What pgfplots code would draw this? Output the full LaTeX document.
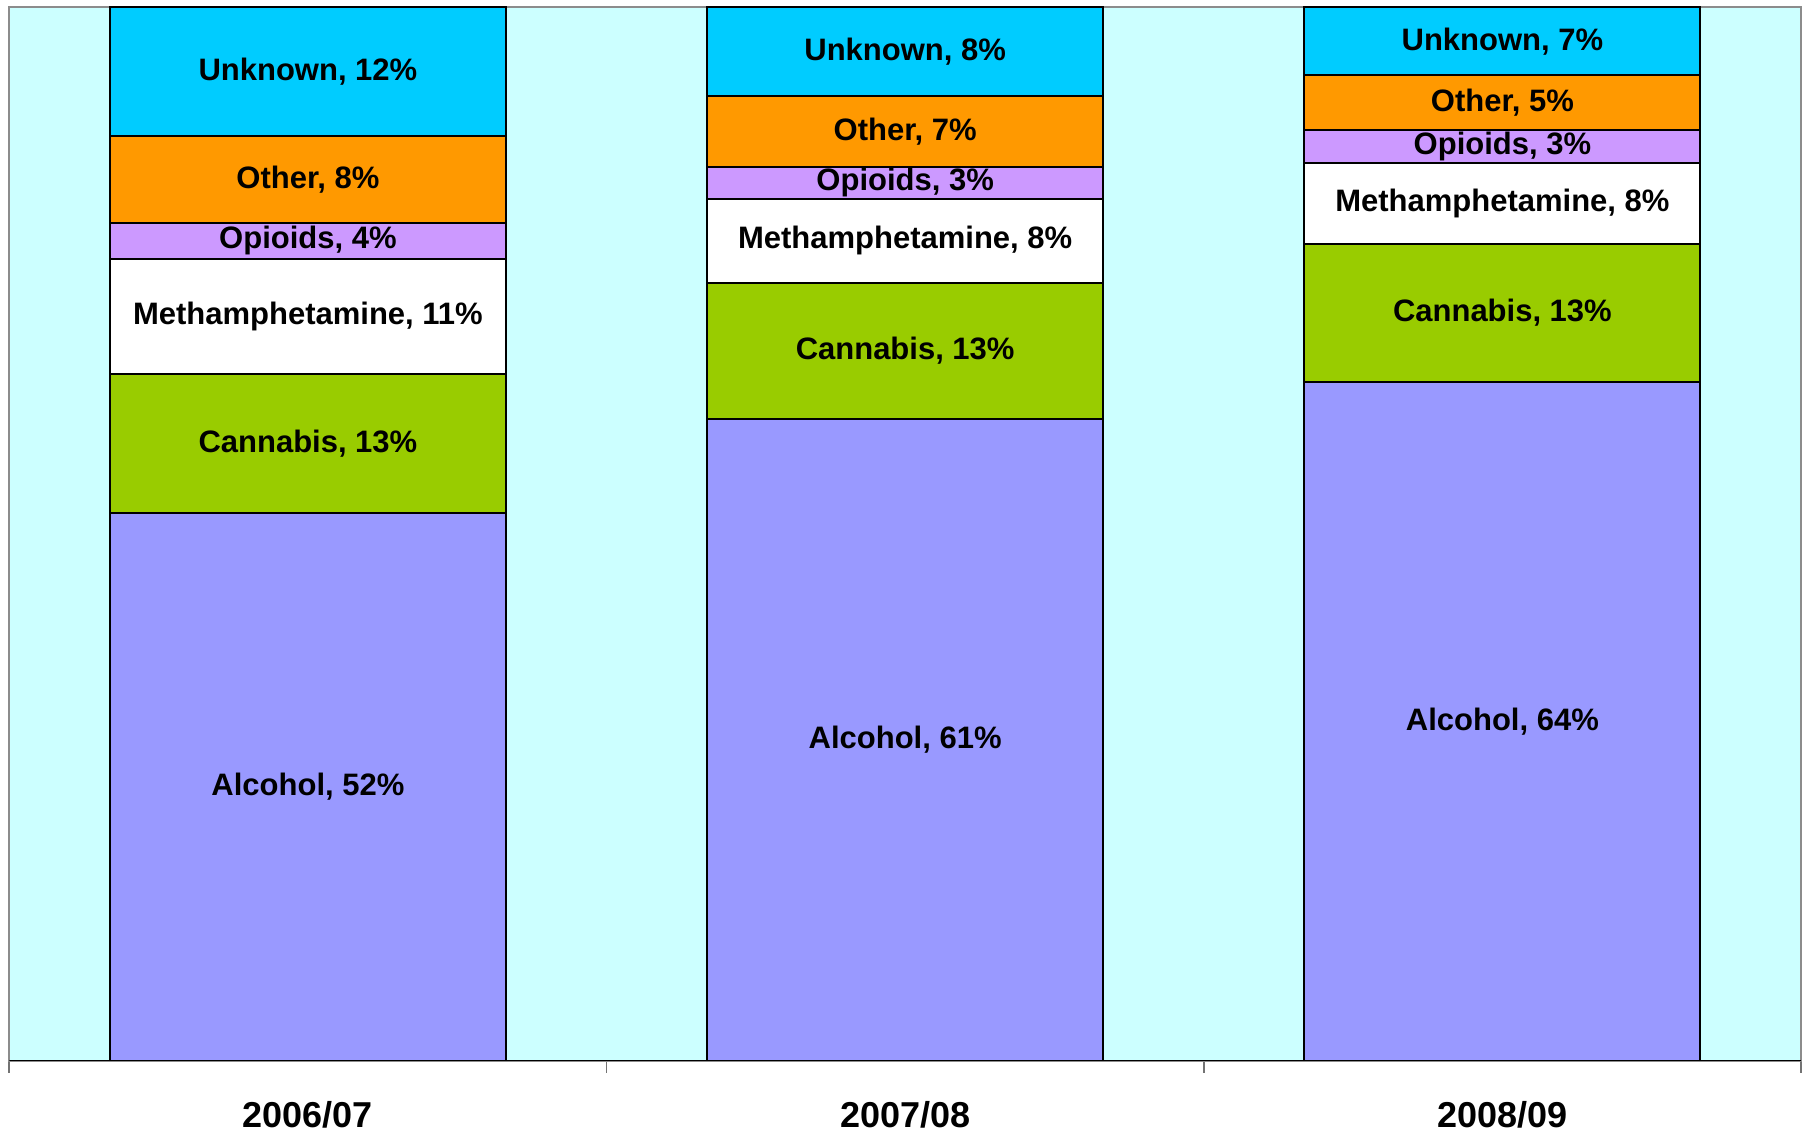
\documentclass[border=0pt]{standalone}
\usepackage{pgfplots}
\usepackage{pgfplotstable}
\pgfplotsset{compat=1.18}
\usepackage{fontspec}
\setmainfont{Liberation Sans}

\definecolor{plotbg}{HTML}{CCFFFF}
\definecolor{alc}{HTML}{9999FF}
\definecolor{can}{HTML}{99CC00}
\definecolor{opi}{HTML}{CC99FF}
\definecolor{oth}{HTML}{FF9900}
\definecolor{unk}{HTML}{00CCFF}

% shares in percent
\pgfplotstableread{
x alc  can  meth opi oth unk
0 52.0 13.2 10.9 3.4 8.3 12.2
1 60.9 12.9 8.0  3.0 6.8 8.4
2 64.4 13.1 7.7  3.1 5.2 6.5
}\shares

% label positions = middle of each segment
\pgfplotstableread[col sep=semicolon]{
x;y;lbl
0;26.0;Alcohol, 52\%
0;58.6;Cannabis, 13\%
0;70.65;Methamphetamine, 11\%
0;77.8;Opioids, 4\%
0;83.65;Other, 8\%
0;93.9;Unknown, 12\%
1;30.45;Alcohol, 61\%
1;67.35;Cannabis, 13\%
1;77.8;Methamphetamine, 8\%
1;83.3;Opioids, 3\%
1;88.2;Other, 7\%
1;95.8;Unknown, 8\%
2;32.2;Alcohol, 64\%
2;70.95;Cannabis, 13\%
2;81.35;Methamphetamine, 8\%
2;86.75;Opioids, 3\%
2;90.9;Other, 5\%
2;96.75;Unknown, 7\%
}\labels

\pgfplotsset{
  frame/.style={
    scale only axis, width=896pt, height=527pt,
    xmin=-0.5, xmax=2.5, ymin=0, ymax=100,
  },
}

\begin{document}
\begin{tikzpicture}
  \begin{axis}[
    frame, name=ax,
    ybar stacked, bar width=198pt,
    axis background/.style={fill=plotbg},
    axis line style={draw=black!45, line width=1pt},
    ytick=\empty,
    xtick={0,1,2},
    xticklabels={2006/07,2007/08,2008/09},
    major tick length=0pt,
    minor xtick={-0.5,0.5,1.5,2.5},
    minor tick length=6pt,
    minor tick style={black!55, line width=0.9pt},
    xtick align=outside, xtick pos=lower,
    xticklabel style={font=\fontsize{18}{18}\selectfont\bfseries, anchor=base, inner ysep=0pt, yshift=-33.5pt},
    every axis plot/.append style={draw=black, line width=1pt},
  ]
    \addplot[fill=alc] table[x=x, y=alc] {\shares};
    \addplot[fill=can] table[x=x, y=can] {\shares};
    \addplot[fill=white] table[x=x, y=meth] {\shares};
    \addplot[fill=opi] table[x=x, y=opi] {\shares};
    \addplot[fill=oth] table[x=x, y=oth] {\shares};
    \addplot[fill=unk] table[x=x, y=unk] {\shares};
    \draw[black, line width=1pt] (axis cs:-0.5,0) -- (axis cs:2.5,0);
  \end{axis}
  \begin{axis}[frame, hide axis]
    \addplot[draw=none, mark=none, nodes near coords, point meta=explicit symbolic,
      nodes near coords style={anchor=center, font=\fontsize{15.5}{15.5}\selectfont\bfseries}]
      table[x=x, y=y, meta=lbl] {\labels};
  \end{axis}
  \path ([shift={(-4.65pt,-35.9pt)}]ax.south west) rectangle ([shift={(7.5pt,3.5pt)}]ax.north east);
\end{tikzpicture}
\end{document}
